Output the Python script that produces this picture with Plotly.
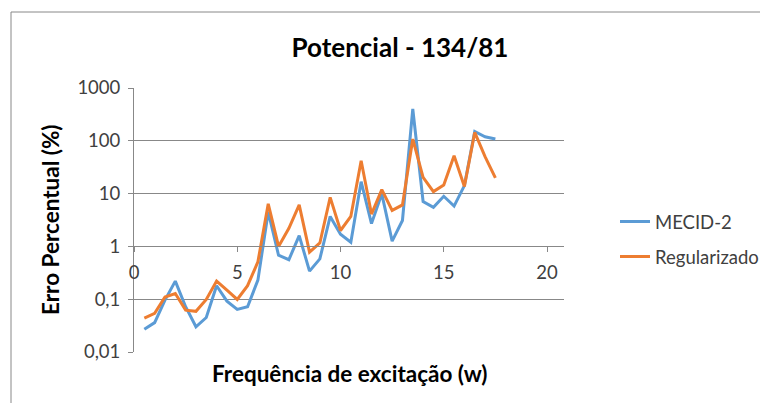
import plotly.graph_objects as go

# excitation frequency (w)
freq = [0.5, 1.0, 1.5, 2.0, 2.5, 3.0, 3.5, 4.0, 4.5, 5.0, 5.5, 6.0, 6.5, 7.0,
        7.5, 8.0, 8.5, 9.0, 9.5, 10.0, 10.5, 11.0, 11.5, 12.0, 12.5, 13.0, 13.5,
        14.0, 14.5, 15.0, 15.5, 16.0, 16.5, 17.0, 17.5]

# percentual error, MECID-2
mecid2 = [0.027, 0.036, 0.096, 0.22, 0.072, 0.030, 0.045, 0.18, 0.092, 0.064,
          0.072, 0.23, 4.5, 0.68, 0.56, 1.6, 0.34, 0.58, 3.7, 1.7, 1.2, 16.8,
          2.7, 9.9, 1.26, 3.1, 400, 7.1, 5.5, 8.9, 5.8, 14.2, 150, 119, 108]

# percentual error, regularized
regularizado = [0.044, 0.054, 0.11, 0.128, 0.062, 0.059, 0.099, 0.22, 0.148,
                0.099, 0.18, 0.51, 6.4, 1.0, 2.2, 6.1, 0.78, 1.16, 8.5, 2.0,
                3.7, 42, 4.1, 11.9, 4.8, 6.1, 108, 20.3, 10.9, 14.6, 52, 13.6,
                144, 50, 19.8]

y_ticks = [0.01, 0.1, 1, 10, 100, 1000]
y_tick_text = ['0,01', '0,1', '1', '10', '100', '1000']
x_ticks = [0, 5, 10, 15, 20]

FONT = 'Lato'
GRID = '#888888'
TXT = '#404040'

# the page body adds an 8px margin, so work in page pixels minus 8
OFF = 8
W, H = 768 - OFF, 403 - OFF
L, R, T, B = 134 - OFF, 564 - OFF, 88 - OFF, 352 - OFF
pw, ph = R - L, B - T

def px_x(x):
    return (x - OFF - L) / pw

def px_y(y):
    return (B - (y - OFF)) / ph

fig = go.Figure()
fig.add_trace(go.Scatter(
    x=freq, y=mecid2, mode='lines', name='MECID-2',
    line=dict(color='#5B9BD5', width=3), legend='legend'
))
fig.add_trace(go.Scatter(
    x=freq, y=regularizado, mode='lines', name='Regularizado',
    line=dict(color='#ED7D31', width=3), legend='legend2'
))

fig.update_layout(
    width=W, height=H,
    margin=dict(l=L, r=W - R, t=T, b=H - B),
    paper_bgcolor='white', plot_bgcolor='white',
    font=dict(family=FONT, size=18, color=TXT),
    title=dict(text='<b>Potencial - 134/81</b>', x=(400 - OFF) / W, xanchor='center',
               y=1 - (48 - OFF) / H, yanchor='middle', yref='container',
               font=dict(family=FONT, size=26, color='black')),
    xaxis=dict(range=[0, 20 * pw / 413], tickvals=x_ticks, showgrid=False,
               zeroline=False, anchor='free', position=0.4,
               showline=True, linecolor=GRID, linewidth=1,
               ticks='outside', ticklen=5, tickcolor=GRID, ticklabelstandoff=4,
               tickfont=dict(family=FONT, size=18.5, color=TXT)),
    yaxis=dict(type='log', range=[-2, 3], tickvals=y_ticks, ticktext=y_tick_text,
               showgrid=True, gridcolor=GRID, gridwidth=1, zeroline=False,
               showline=True, linecolor=GRID, linewidth=1,
               ticks='outside', ticklen=5, tickcolor=GRID, ticklabelstandoff=4,
               tickfont=dict(family=FONT, size=18.5, color=TXT)),
    legend=dict(x=(615 - OFF) / W, xref='container', y=1 - (222 - OFF) / H,
                yref='container', xanchor='left', yanchor='middle',
                bgcolor='rgba(0,0,0,0)',
                font=dict(family=FONT, size=18.5, color=TXT)),
    legend2=dict(x=(615 - OFF) / W, xref='container', y=1 - (257 - OFF) / H,
                 yref='container', xanchor='left', yanchor='middle',
                 bgcolor='rgba(0,0,0,0)',
                 font=dict(family=FONT, size=18.5, color=TXT)),
    showlegend=True,
)

# axis titles
fig.add_annotation(text='<b>Frequência de excitação (w)</b>', xref='paper', yref='paper',
                   x=0.5, y=px_y(373), showarrow=False, xanchor='center', yanchor='middle',
                   font=dict(family=FONT, size=22.5, color='black'))
fig.add_annotation(text='<b>Erro Percentual (%)</b>', xref='paper', yref='paper',
                   x=px_x(50), y=0.5, textangle=-90, showarrow=False,
                   xanchor='center', yanchor='middle',
                   font=dict(family=FONT, size=22.5, color='black'))

# chart area border (top and left edges visible)
fig.add_shape(type='line', xref='paper', yref='paper', x0=px_x(11), x1=px_x(780),
              y0=px_y(12), y1=px_y(12), line=dict(color=GRID, width=1))
fig.add_shape(type='line', xref='paper', yref='paper', x0=px_x(11), x1=px_x(11),
              y0=px_y(12), y1=px_y(420), line=dict(color=GRID, width=1))

fig.write_html("out.html")
